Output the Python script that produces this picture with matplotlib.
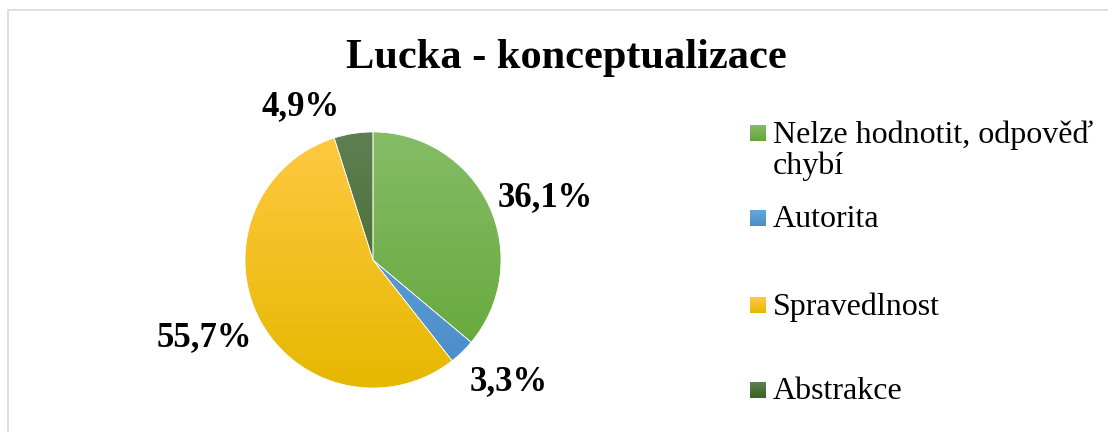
import numpy as np
import matplotlib.pyplot as plt
from matplotlib.patches import Rectangle
from matplotlib.colors import LinearSegmentedColormap

labels = ['Nelze hodnotit, odpověď\nchybí', 'Autorita', 'Spravedlnost', 'Abstrakce']
values = [36.1, 3.3, 55.7, 4.9]
# top / bottom gradient colours per slice
top_colors = ['#85bc66', '#6aa6dc', '#ffc942', '#5f7f52']
bot_colors = ['#62a636', '#4a8cc9', '#e6b800', '#3a6322']
legend_y = [133, 218, 305, 390]  # pixel rows of legend entries

plt.rcParams['font.family'] = ['Liberation Serif', 'DejaVu Serif']

fig = plt.figure(figsize=(11.08, 4.32), dpi=100)
W, H = 1108, 432

# chart border
fig.patches.append(Rectangle((8 / W, -0.1), 1.2, (H - 10) / H + 0.1, transform=fig.transFigure,
                             fill=False, edgecolor='#d9d9d9', linewidth=1.2))

cx, cy, r = 373, 260, 128
ax = fig.add_axes([(cx - r) / W, (H - cy - r) / H, 2 * r / W, 2 * r / H])
wedges, _ = ax.pie(values, startangle=90, counterclock=False, radius=1,
                   colors=top_colors, wedgeprops=dict(linewidth=0.5, edgecolor='white'))
ax.set_xlim(-1, 1)
ax.set_ylim(-1, 1)
ax.set_aspect('equal')
ax.axis('off')

grad = np.linspace(0, 1, 256).reshape(-1, 1)
for w, c0, c1 in zip(wedges, top_colors, bot_colors):
    cmap = LinearSegmentedColormap.from_list('g', [c0, c1])
    im = ax.imshow(grad, cmap=cmap, extent=[-1, 1, -1, 1], aspect='auto', zorder=w.get_zorder() + 0.1)
    im.set_clip_path(w)
    w.set_facecolor('none')
    w.set_zorder(w.get_zorder() + 0.2)

# data labels
dist = [1.44, 1.41, 1.44, 1.34]
shift = [-4.5, 4.5, -4, 16]  # degrees nudged like Excel best fit
start = 90.0
for v, d, s in zip(values, dist, shift):
    mid = np.deg2rad(start - v * 3.6 / 2 + s)
    start -= v * 3.6
    ax.text(d * np.cos(mid), d * np.sin(mid) - 0.02, f'{v:.1f}'.replace('.', ',') + '%',
            ha='center', va='center', fontsize=25, fontweight='bold', clip_on=False)

fig.text(566 / W, 1 - 58 / H, 'Lucka - konceptualizace', ha='center', va='center',
         fontsize=30.5, fontweight='bold')

# legend
for lab, y, c0, c1 in zip(labels, legend_y, top_colors, bot_colors):
    sq = fig.add_axes([750 / W, 1 - (y + 8) / H, 16 / W, 16 / H])
    sq.imshow(grad, cmap=LinearSegmentedColormap.from_list('g', [c0, c1]), aspect='auto')
    sq.axis('off')
    fig.text(773 / W, 1 - (y - 13) / H, lab, ha='left', va='top', fontsize=23, linespacing=1.1)

fig.savefig('out.png', dpi=100)
